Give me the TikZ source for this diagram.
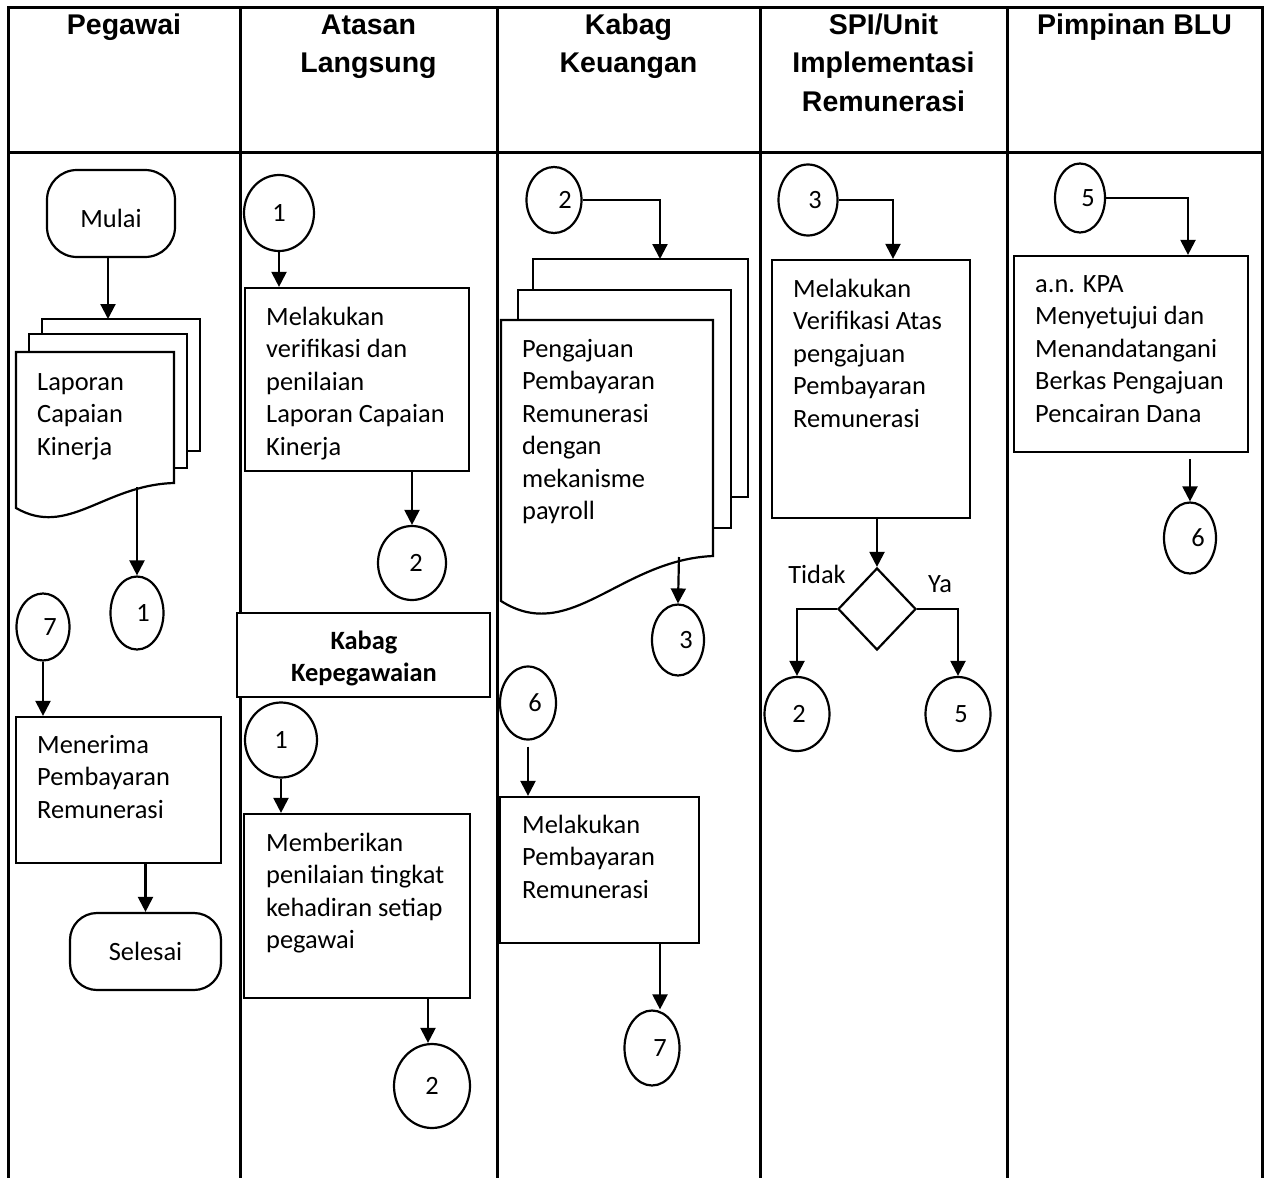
\documentclass[tikz,border=0pt]{standalone}
\usepackage{fontspec}
\setmainfont{Carlito}
\newfontfamily\hdrfamily{Liberation Sans}
\usetikzlibrary{shapes.geometric,arrows.meta,calc}
\newcommand\bodyfont{\fontsize{26.4}{32.5}\selectfont}
\newcommand\hdrtxt{\hdrfamily\bfseries\fontsize{28.5}{38.5}\selectfont}
\begin{document}
\begin{tikzpicture}[x=1pt,y=-1pt,
  tbl/.style={line width=3pt},
  shp/.style={draw, line width=2.2pt, fill=white},
  box/.style={shp, rectangle, inner sep=0pt},
  conn/.style={shp, ellipse, inner sep=0pt, font=\bodyfont},
  term/.style={shp, rectangle, inner sep=0pt, font=\bodyfont},
  dec/.style={shp, diamond, inner sep=0pt},
  arr/.style={line width=2.2pt, -{Triangle[length=15pt,width=15pt]}},
  txt/.style={anchor=north west, inner sep=0pt, align=left, font=\bodyfont, yshift=22.75pt},
  hdr/.style={anchor=north, inner sep=0pt, align=center, font=\hdrtxt, yshift=26.95pt},
]
\useasboundingbox (0,0) rectangle (1267,1178);
% table
\draw[tbl] (8,1178) -- (8,7) -- (1262,7) -- (1262,1178);
\draw[tbl] (8,152) -- (1262,152);
\foreach \cx in {240,497,760,1007} \draw[tbl] (\cx,7) -- (\cx,1178);
% headers
\node[hdr] (h1) at (124,34) {\strut Pegawai};
\node[hdr] (h2) at (368.5,34) {\strut Atasan\\Langsung};
\node[hdr] (h3) at (628.5,34) {\strut Kabag\\Keuangan};
\node[hdr] (h4) at (883.5,34) {\strut SPI/Unit\\Implementasi\\Remunerasi};
\node[hdr] (h5) at (1134.5,34) {\strut Pimpinan BLU};

% ---------- Pegawai ----------
\node[term, rounded corners=30pt, minimum width=128pt, minimum height=87pt, text height=28pt] (mulai) at (111,213.5) {Mulai};
\draw[shp] (42,319) rectangle (200,451);
\draw[shp] (29,334) rectangle (187,468);
\draw[shp] (16,352) -- (174,352) -- (174,483) .. controls (104,485) and (68,538) .. (16,508) -- cycle;
\coordinate (pdocin) at (108,319);
\coordinate (pdocout) at (137,487);
\node[txt] (tpdoc) at (37,390) {\strut Laporan\\Capaian\\Kinerja};
\node[conn, minimum width=53pt, minimum height=73pt] (c1a) at (137,613) {\hspace*{12pt}1};
\node[conn, minimum width=53pt, minimum height=67pt] (c7a) at (43,627) {\hspace*{14pt}7};
\node[box, minimum width=205pt, minimum height=146pt] (p2) at (118.5,790) {};
\node[txt] (tp2) at (37,753) {\strut Menerima\\Pembayaran\\Remunerasi};
\node[term, rounded corners=27pt, minimum width=151pt, minimum height=77pt] (selesai) at (145.5,951.5) {Selesai};

% ---------- Atasan Langsung ----------
\node[conn, minimum width=70pt, minimum height=76pt] (c1b) at (279,213) {1};
\node[box, minimum width=224pt, minimum height=183pt] (b1) at (357,379.5) {};
\node[txt] (tb1) at (266,325) {\strut Melakukan\\verifikasi dan\\penilaian\\Laporan Capaian\\Kinerja};
\node[conn, minimum width=68pt, minimum height=74pt] (c2b) at (412,563) {\hspace*{8pt}2};
\node[box, minimum width=253pt, minimum height=84pt] (kk) at (363.5,655) {};
\node[anchor=north, inner sep=0pt, align=center, font=\bodyfont\bfseries, yshift=22.75pt] (tkk) at (364,649) {\strut Kabag\\Kepegawaian};
\node[conn, minimum width=72pt, minimum height=75pt] (c1c) at (281,740) {1};
\node[box, minimum width=226pt, minimum height=184pt] (b2) at (357,906) {};
\node[txt] (tb2) at (266,851) {\strut Memberikan\\penilaian tingkat\\kehadiran setiap\\pegawai};
\node[conn, minimum width=76pt, minimum height=84pt] (c2c) at (432,1086) {2};

% ---------- Kabag Keuangan ----------
\node[conn, minimum width=55pt, minimum height=66pt] (c2d) at (554,200) {\hspace*{22pt}2};
\draw[shp] (533,259) rectangle (748,497);
\draw[shp] (518,290) rectangle (731,528);
\draw[shp] (501,320) -- (713,320) -- (713,556) .. controls (620,560) and (570,645) .. (501,601) -- cycle;
\coordinate (kdocin) at (660,259);
\coordinate (kdocout) at (679,557);
\node[txt] (tkdoc) at (522,357) {\strut Pengajuan\\Pembayaran\\Remunerasi\\dengan\\mekanisme\\payroll};
\node[conn, minimum width=52pt, minimum height=71pt] (c3a) at (678,640) {\hspace*{16pt}3};
\node[conn, minimum width=56pt, minimum height=73pt] (c6a) at (528,703) {\hspace*{14pt}6};
\node[box, minimum width=199pt, minimum height=146pt] (k2) at (599.5,870) {};
\node[txt] (tk2) at (522,833) {\strut Melakukan\\Pembayaran\\Remunerasi};
\node[conn, minimum width=55pt, minimum height=75pt] (c7b) at (652,1048) {\hspace*{16pt}7};

% ---------- SPI ----------
\node[conn, minimum width=59pt, minimum height=71pt] (c3b) at (808,200) {\hspace*{14pt}3};
\node[box, minimum width=198pt, minimum height=258pt] (s1) at (871,389) {};
\node[txt] (ts1) at (793,297) {\strut Melakukan\\Verifikasi Atas\\pengajuan\\Pembayaran\\Remunerasi};
\node[dec, minimum width=78pt, minimum height=82pt] (dia) at (877,609) {};
\node[anchor=base, inner sep=0pt, font=\bodyfont] (ltidak) at (817,583) {Tidak};
\node[anchor=base, inner sep=0pt, font=\bodyfont] (lya) at (940,592) {Ya};
\node[conn, minimum width=65pt, minimum height=74pt] (c2e) at (797,714) {\hspace*{4pt}2};
\node[conn, minimum width=65pt, minimum height=74pt] (c5a) at (958,714) {\hspace*{6pt}5};

% ---------- Pimpinan BLU ----------
\node[conn, minimum width=50pt, minimum height=69pt] (c5b) at (1080,198) {\hspace*{16pt}5};
\node[box, minimum width=234pt, minimum height=196pt] (q1) at (1131,354) {};
\node[txt] (tq1) at (1035,292) {\strut a.n. KPA\\Menyetujui dan\\Menandatangani\\Berkas Pengajuan\\Pencairan Dana};
\node[conn, minimum width=52pt, minimum height=71pt] (c6b) at (1190,538) {\hspace*{16pt}6};

% ---------- connectors ----------
\draw[arr] (pdocin |- mulai.south) -- (pdocin);
\draw[arr] (pdocout) -- (c1a.north);
\draw[arr] (c7a.south) -- (c7a.south |- p2.north);
\draw[arr] (selesai.north |- p2.south) -- (selesai.north);

\draw[arr] (c1b.south) -- (c1b.south |- b1.north);
\draw[arr] (c2b.north |- b1.south) -- (c2b.north);
\draw[arr] (c1c.south) -- (c1c.south |- b2.north);
\draw[arr] ([xshift=-4pt]c2c.north |- b2.south) -- ([xshift=-4pt]c2c.north);

\draw[arr] (c2d.east) -| (kdocin);
\draw[arr] (kdocout) -- (c3a.north);
\draw[arr] ($(c6a.south)+(0,6)$) -- (c6a.south |- k2.north);
\draw[arr] ([xshift=8pt]c7b.north |- k2.south) -- ([xshift=8pt]c7b.north);

\draw[arr] (c3b.east) -| ([xshift=22pt]s1.north);
\draw[arr] (dia.north |- s1.south) -- (dia.north);
\draw[arr] (dia.west) -| (c2e.north);
\draw[arr] (dia.east) -| (c5a.north);

\draw[arr] (c5b.east) -| ([xshift=57pt]q1.north);
\draw[arr] ($(c6b.north |- q1.south)+(0,6)$) -- (c6b.north);
\end{tikzpicture}
\end{document}
